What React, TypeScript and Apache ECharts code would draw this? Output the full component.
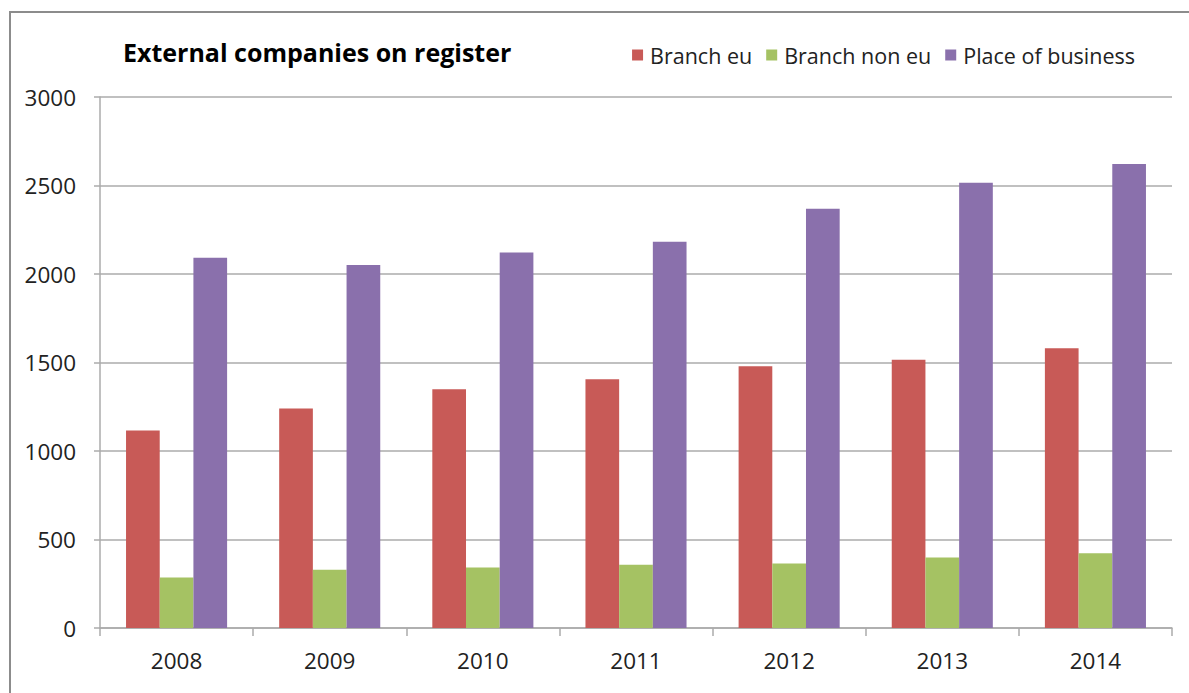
import React, { useEffect, useRef } from "react";
import * as echarts from "echarts";

const years = ["2008", "2009", "2010", "2011", "2012", "2013", "2014"];
const branchEu = [1116, 1240, 1349, 1405, 1479, 1516, 1580];
const branchNonEu = [286, 329, 342, 357, 365, 398, 423];
const placeOfBusiness = [2092, 2051, 2122, 2182, 2368, 2515, 2622];
const seriesNames = ["Branch eu", "Branch non eu", "Place of business"];
const colors = ["#C85A57", "#A5C263", "#8A70AC"];

const FONT = "'Open Sans', 'Noto Sans', sans-serif";

export default function App() {
  const ref = useRef<HTMLDivElement>(null);
  useEffect(() => {
    if (!ref.current) return;
    const chart = echarts.init(ref.current, undefined, { renderer: "svg" });
    const gridColor = "#ABABAB";
    chart.setOption({
      animation: false,
      backgroundColor: "#ffffff",
      color: colors,
      title: {
        text: "External companies on register",
        left: 118,
        top: 34,
        textStyle: { fontFamily: FONT, fontSize: 25, fontWeight: "bold", color: "#000" },
      },
      legend: {
        right: 49,
        top: 39,
        itemWidth: 11,
        itemHeight: 11,
        itemGap: 14,
        icon: "rect",
        textStyle: { fontFamily: FONT, fontSize: 21.5, color: "#222", padding: [0, 0, 0, 2] },
        data: seriesNames,
      },
      graphic: [
        {
          type: "rect",
          shape: { x: 10, y: 12, width: 1400, height: 900 },
          style: { fill: "none", stroke: "#8C8C8C", lineWidth: 2 },
          silent: true,
        },
      ],
      grid: { left: 100, right: 17, top: 97, bottom: 65 },
      xAxis: {
        type: "category",
        data: years,
        axisLine: { lineStyle: { color: gridColor, width: 1.5 } },
        axisTick: { show: true, length: 8, lineStyle: { color: gridColor, width: 1.5 } },
        axisLabel: { margin: 21, fontFamily: FONT, fontSize: 22.5, color: "#222" },
      },
      yAxis: {
        type: "value",
        min: 0,
        max: 3000,
        interval: 500,
        axisLine: { show: true, lineStyle: { color: gridColor, width: 1.5 } },
        axisTick: { show: true, length: 6, lineStyle: { color: gridColor, width: 1.5 } },
        axisLabel: {
          margin: 24,
          fontFamily: FONT,
          fontSize: 22.5,
          color: "#222",
          formatter: (v: number) => String(v),
        },
        splitLine: { show: true, lineStyle: { color: gridColor, width: 1.5 } },
      },
      series: [
        { name: seriesNames[0], type: "bar", data: branchEu, barGap: "0%", barCategoryGap: "34%" },
        { name: seriesNames[1], type: "bar", data: branchNonEu, barGap: "0%", barCategoryGap: "34%" },
        { name: seriesNames[2], type: "bar", data: placeOfBusiness, barGap: "0%", barCategoryGap: "34%" },
      ],
    });
    return () => chart.dispose();
  }, []);
  return (
    <div
      ref={ref}
      style={{ position: "fixed", left: 0, top: 0, width: 1189, height: 693 }}
    />
  );
}
